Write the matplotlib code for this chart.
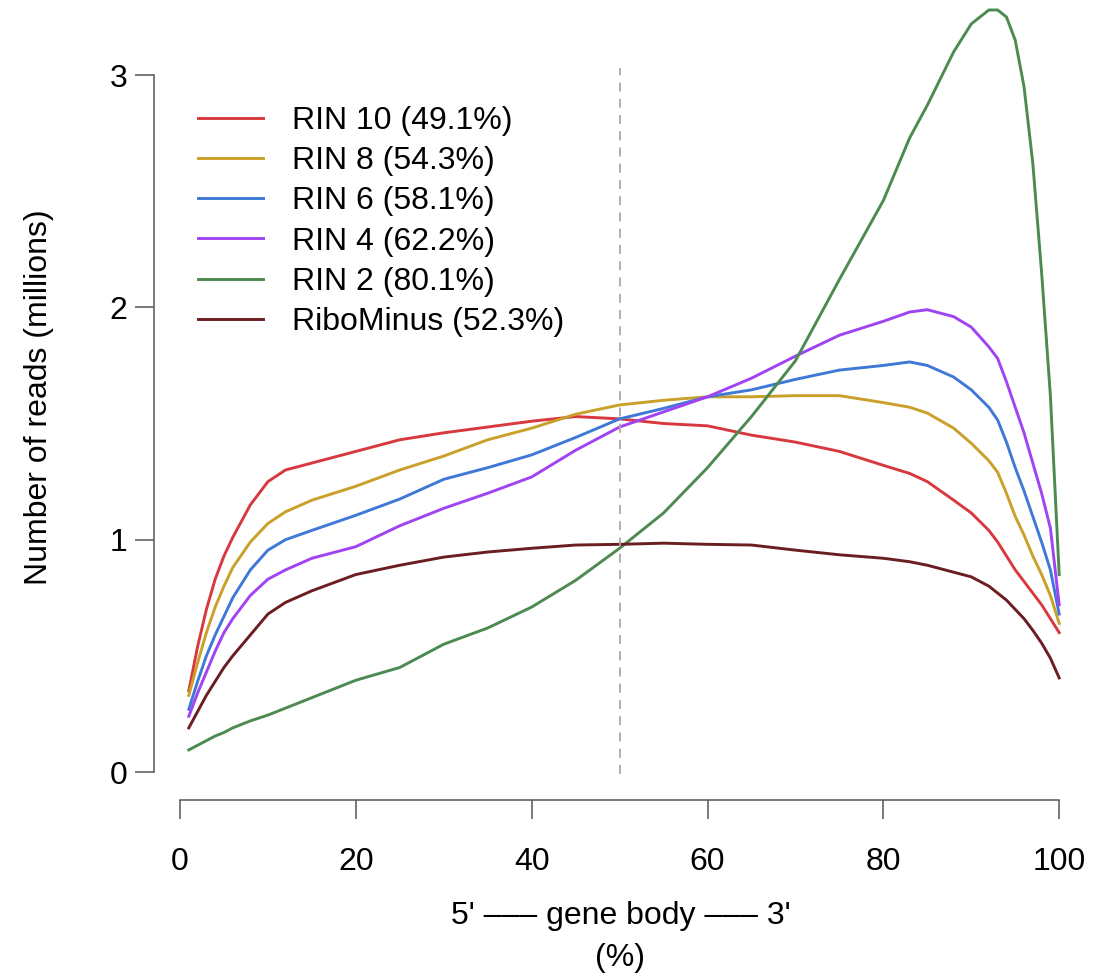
import matplotlib
matplotlib.use("Agg")
import matplotlib.pyplot as plt

plt.rcParams['font.family'] = ['Liberation Sans', 'DejaVu Sans']

# ---- data ----
gene_body_pct = [1, 2, 3, 4, 5, 6, 8, 10, 12, 15, 20, 25, 30, 35, 40, 45, 50, 55, 60,
                 65, 70, 75, 80, 83, 85, 88, 90, 92, 93, 94, 95, 96, 97, 98, 99, 100]

rin10 = [0.35, 0.54, 0.70, 0.83, 0.93, 1.01, 1.15, 1.25, 1.30, 1.33, 1.38, 1.43, 1.46, 1.485,
         1.51, 1.53, 1.52, 1.50, 1.49, 1.45, 1.42, 1.38, 1.32, 1.285, 1.25, 1.17, 1.115, 1.04,
         0.99, 0.93, 0.87, 0.82, 0.77, 0.72, 0.66, 0.60]
rin8 = [0.33, 0.47, 0.60, 0.71, 0.80, 0.88, 0.99, 1.07, 1.12, 1.17, 1.23, 1.30, 1.36, 1.43,
        1.48, 1.54, 1.58, 1.60, 1.615, 1.615, 1.62, 1.62, 1.59, 1.57, 1.545, 1.48, 1.415, 1.34,
        1.29, 1.20, 1.10, 1.02, 0.93, 0.85, 0.76, 0.64]
rin6 = [0.27, 0.39, 0.50, 0.59, 0.67, 0.75, 0.87, 0.955, 1.00, 1.04, 1.105, 1.175, 1.26, 1.31,
        1.365, 1.44, 1.52, 1.565, 1.615, 1.645, 1.69, 1.73, 1.75, 1.765, 1.75, 1.70, 1.645, 1.57,
        1.515, 1.42, 1.31, 1.21, 1.10, 0.99, 0.87, 0.68]
rin4 = [0.24, 0.34, 0.43, 0.52, 0.60, 0.66, 0.76, 0.83, 0.87, 0.92, 0.97, 1.06, 1.135, 1.20,
        1.27, 1.385, 1.485, 1.55, 1.615, 1.695, 1.79, 1.88, 1.94, 1.98, 1.99, 1.96, 1.915, 1.83,
        1.78, 1.68, 1.57, 1.46, 1.33, 1.20, 1.05, 0.72]
rin2 = [0.095, 0.115, 0.135, 0.155, 0.17, 0.19, 0.22, 0.245, 0.275, 0.32, 0.395, 0.45, 0.55,
        0.62, 0.71, 0.825, 0.963, 1.115, 1.31, 1.53, 1.77, 2.12, 2.46, 2.73, 2.87, 3.10, 3.22,
        3.28, 3.28, 3.25, 3.15, 2.95, 2.62, 2.15, 1.62, 0.85]
ribominus = [0.19, 0.26, 0.33, 0.39, 0.45, 0.50, 0.59, 0.68, 0.73, 0.78, 0.85, 0.89, 0.925,
             0.947, 0.963, 0.977, 0.98, 0.985, 0.98, 0.977, 0.955, 0.935, 0.92, 0.905, 0.89,
             0.86, 0.84, 0.80, 0.77, 0.74, 0.70, 0.66, 0.61, 0.555, 0.49, 0.405]

series_labels = ["RIN 10 (49.1%)", "RIN 8 (54.3%)", "RIN 6 (58.1%)",
                 "RIN 4 (62.2%)", "RIN 2 (80.1%)", "RiboMinus (52.3%)"]
series_values = [rin10, rin8, rin6, rin4, rin2, ribominus]
series_colors = ["#D8393F", "#C9A02A", "#3F78D6", "#A043F2", "#4C8A50", "#6A1E22"]

x_ticks = [0, 20, 40, 60, 80, 100]
y_ticks = [0, 1, 2, 3]

FS = 23

# ---- figure ----
W, H = 1106, 975
fig = plt.figure(figsize=(W / 100, H / 100), dpi=100)
left_px, right_px, top_px, bottom_px = 154, 1094, 0, 800
ax = fig.add_axes([left_px / W, 1 - bottom_px / H, (right_px - left_px) / W, (bottom_px - top_px) / H])
ax.set_xlim(-2.96, 103.96)
ax.set_ylim(-0.1205, 3.323)

for vals, lab, col in zip(series_values, series_labels, series_colors):
    ax.plot(gene_body_pct, vals, color=col, lw=2.1, label=lab, solid_joinstyle='round')

ax.plot([50, 50], [-0.01, 3.03], color="#AAAAAA", lw=1.3, ls=(0, (5, 4)))

for s in ['top', 'right']:
    ax.spines[s].set_visible(False)
ax.spines['bottom'].set_bounds(0, 100)
ax.spines['left'].set_bounds(0, 3)
for s in ['bottom', 'left']:
    ax.spines[s].set_color('#555555')
    ax.spines[s].set_linewidth(1.1)
ax.set_xticks(x_ticks)
ax.set_yticks(y_ticks)
ax.tick_params(axis='both', direction='out', length=14, width=1.1, color='#555555',
               labelsize=FS)
ax.tick_params(axis='x', pad=20)
ax.tick_params(axis='y', pad=5)

fig.text(621 / W, 1 - 916 / H, "5' \u2013\u2013\u2013 gene body \u2013\u2013\u2013 3'",
         fontsize=FS, ha='center', va='center')
fig.text(620 / W, 1 - 958 / H, "(%)", fontsize=FS, ha='center', va='center')
fig.text(39 / W, 1 - 397 / H, "Number of reads (millions)", fontsize=FS,
         rotation=90, ha='center', va='center')

leg = ax.legend(loc='upper left', bbox_to_anchor=(198 / W, 1 - 106 / H),
                bbox_transform=fig.transFigure, frameon=False, fontsize=FS,
                handlelength=2.03, handletextpad=0.9, labelspacing=0.32, borderpad=0,
                borderaxespad=0)

fig.savefig("out.png", dpi=100, facecolor='white')
